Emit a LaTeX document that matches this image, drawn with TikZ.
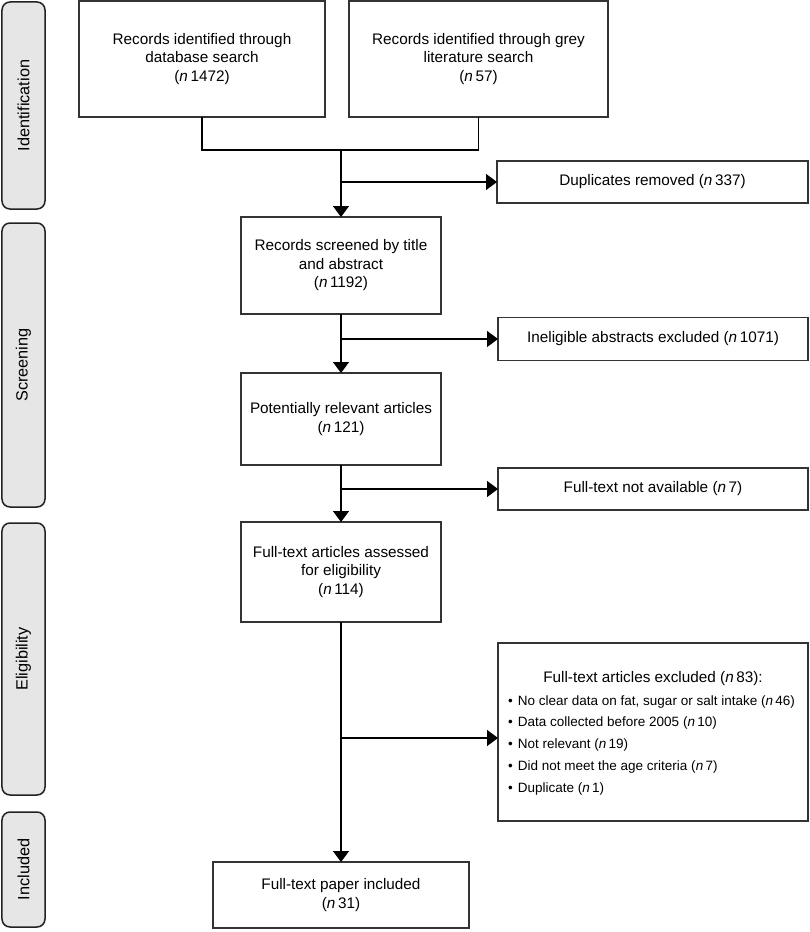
\documentclass[tikz,border=0pt]{standalone}
\usepackage{fontspec}
\setmainfont{Liberation Sans}
\usetikzlibrary{arrows.meta}
\definecolor{boxline}{HTML}{333333}
\definecolor{phaseline}{HTML}{222222}
\definecolor{phasefill}{HTML}{E6E6E6}
\newcommand{\mainfs}{\fontsize{15.3bp}{18.5bp}\selectfont}
\newcommand{\listfs}{\fontsize{13.5bp}{16bp}\selectfont}
\newcommand{\phasefs}{\fontsize{16.3bp}{19bp}\selectfont}
\newcommand{\nn}{\textit{n}\,}
\begin{document}
\begin{tikzpicture}[x=1bp,y=-1bp,
  box/.style={draw=boxline, line width=1.3bp, inner sep=0pt, outer sep=0pt, align=center, font=\mainfs},
  phase/.style={draw=phaseline, fill=phasefill, line width=1.5bp, rounded corners=8bp, inner sep=0pt, outer sep=0pt, minimum height=43bp, font=\phasefs, rotate=90},
  ln/.style={draw=black, line width=1.3bp},
  arr/.style={ln, -{Triangle[length=11bp,width=16bp]}},
  listitem/.style={anchor=base west, inner sep=0pt, font=\listfs},
  ]
\useasboundingbox (0,0) rectangle (810,932);

% phase labels
\node[phase, minimum width=207bp] (P1) at (23.5,105.5) {Identification};
\node[phase, minimum width=284bp] (P2) at (23.5,365) {Screening};
\node[phase, minimum width=272bp] (P3) at (23.5,659) {Eligibility};
\node[phase, minimum width=115bp] (P4) at (23.5,869.5) {Included};

% main boxes
\node[box, minimum width=246bp, minimum height=116bp] (A) at (202,59) {Records identified through\\database search\\(\nn1472)};
\node[box, minimum width=259bp, minimum height=116bp] (B) at (478.5,59) {Records identified through grey\\literature search\\(\nn57)};
\node[box, minimum width=311bp, minimum height=42bp] (Dup) at (652.5,182) {Duplicates removed (\nn337)};
\node[box, minimum width=200bp, minimum height=97bp] (C) at (341,265.5) {Records screened by title\\and abstract\\(\nn1192)};
\node[box, minimum width=310bp, minimum height=43bp] (Inel) at (653,339) {Ineligible abstracts excluded (\nn1071)};
\node[box, minimum width=200bp, minimum height=92bp] (D) at (341,419) {Potentially relevant articles\\(\nn121)};
\node[box, minimum width=310bp, minimum height=42bp] (FTNA) at (653,489) {Full-text not available (\nn7)};
\node[box, minimum width=200bp, minimum height=100bp] (E) at (341,572) {Full-text articles assessed\\for eligibility\\(\nn114)};
\node[box, minimum width=310bp, minimum height=178bp] (Excl) at (653,732) {};
\node[box, minimum width=256bp, minimum height=66bp] (F) at (341,895) {Full-text paper included\\(\nn31)};

% excluded list
\node[anchor=base, inner sep=0pt, font=\mainfs] (ExT) at (653,682.5) {Full-text articles excluded (\nn83):};
\node[listitem] (Ex1) at (508,705) {•\hspace{5bp}No clear data on fat, sugar or salt intake (\nn46)};
\node[listitem] (Ex2) at (508,726.8) {•\hspace{5bp}Data collected before 2005 (\nn10)};
\node[listitem] (Ex3) at (508,748.6) {•\hspace{5bp}Not relevant (\nn19)};
\node[listitem] (Ex4) at (508,770.4) {•\hspace{5bp}Did not meet the age criteria (\nn7)};
\node[listitem] (Ex5) at (508,792.2) {•\hspace{5bp}Duplicate (\nn1)};

% connectors
\coordinate (jm) at (341,150);
\coordinate (b1) at (341,182);
\coordinate (b2) at (341,339);
\coordinate (b3) at (341,489);
\coordinate (b4) at (341,738);
\draw[ln] (A.south) |- (jm) -| (B.south);
\draw[arr] (jm) -- (C.north);
\draw[arr] (b1) -- (Dup.west);
\draw[arr] (C.south) -- (D.north);
\draw[arr] (b2) -- (Inel.west);
\draw[arr] (D.south) -- (E.north);
\draw[arr] (b3) -- (FTNA.west);
\draw[arr] (E.south) -- (F.north);
\draw[arr] (b4) -- (b4 -| Excl.west);
\end{tikzpicture}
\end{document}
